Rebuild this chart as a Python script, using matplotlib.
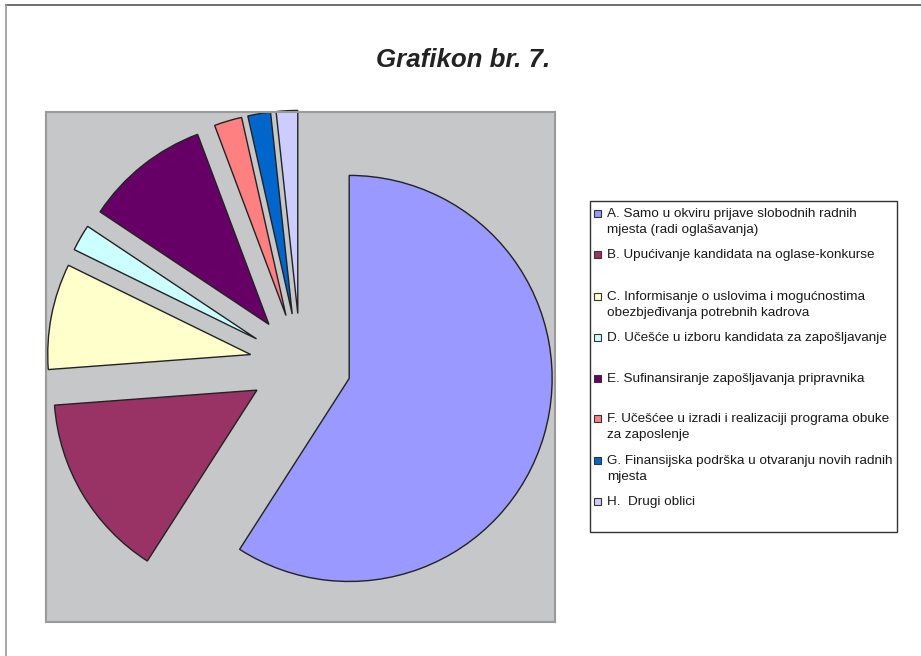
import matplotlib.pyplot as plt
from matplotlib.patches import Rectangle
from matplotlib.lines import Line2D

plt.rcParams['font.family'] = ['Liberation Sans', 'DejaVu Sans']

# share of each form (percent)
labels = [
    "A. Samo u okviru prijave slobodnih radnih\nmjesta (radi oglašavanja)",
    "B. Upućivanje kandidata na oglase-konkurse",
    "C. Informisanje o uslovima i mogućnostima\nobezbjeđivanja potrebnih kadrova",
    "D. Učešće u izboru kandidata za zapošljavanje",
    "E. Sufinansiranje zapošljavanja pripravnika",
    "F. Učešćee u izradi i realizaciji programa obuke\nza zaposlenje",
    "G. Finansijska podrška u otvaranju novih radnih\nmjesta",
    "H.  Drugi oblici",
]
values = [58.9, 14.7, 8.4, 2.1, 9.9, 2.2, 1.8, 1.7]
colors = ["#9999ff", "#993366", "#ffffcc", "#ccffff",
          "#660066", "#ff8080", "#0066cc", "#ccccff"]

W, H = 921, 656
fig = plt.figure(figsize=(9.21, 6.56), dpi=100)

# outer frame lines (top and left)
fig.add_artist(Line2D([6 / W, 1], [1 - 5 / H, 1 - 5 / H], color="#555555", lw=1.2))
fig.add_artist(Line2D([6 / W, 6 / W], [0, 1 - 5 / H], color="#9a9a9a", lw=1.2))

fig.text(463 / W, 1 - 60 / H, "Grafikon br. 7.", ha="center", va="center",
         fontsize=18.6, fontweight="bold", fontstyle="italic", color="#222222")

ax = fig.add_axes([46 / W, 34 / H, 509 / W, 510 / H])
ax.pie(values, colors=colors, startangle=90, counterclock=False,
       explode=[0.25] * len(values),
       wedgeprops=dict(edgecolor="#222222", linewidth=1.0))
ax.set_frame_on(True)
ax.set_facecolor("#c6c7c9")
ax.set_aspect("equal", adjustable="datalim")
ax.set_xlim(-1.254, 1.254)
ax.set_ylim(-1.27, 1.242)
ax.set_xticks([])
ax.set_yticks([])
for s in ax.spines.values():
    s.set_visible(True)
    s.set_color("#9a9a9a")
    s.set_linewidth(1.5)

# legend box
lx0, ly0, lx1, ly1 = 590, 201, 897, 532
fig.add_artist(Rectangle((lx0 / W, 1 - ly1 / H), (lx1 - lx0) / W, (ly1 - ly0) / H,
                         facecolor="white", edgecolor="#333333", lw=1.0))
row_y = [213, 254, 296, 337, 378, 418, 460, 501]
for lab, col, yy in zip(labels, colors, row_y):
    fig.add_artist(Rectangle((594 / W, 1 - (yy + 4) / H), 7 / W, 7 / H,
                             facecolor=col, edgecolor="#333333", lw=0.8))
    fig.text(607 / W, 1 - (yy - 5) / H, lab, ha="left", va="top",
             fontsize=9.7, color="#1a1a1a", linespacing=1.45)

fig.savefig("out.png", dpi=100)
